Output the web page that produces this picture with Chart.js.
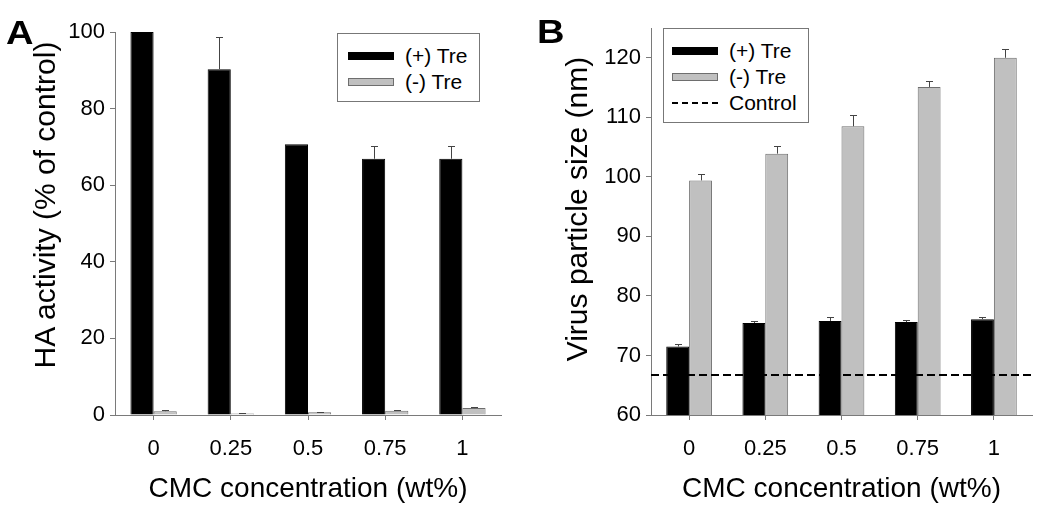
<!DOCTYPE html>
<html>
<head>
<meta charset="utf-8">
<script src="https://cdn.jsdelivr.net/npm/chart.js@4.4.1/dist/chart.umd.min.js"></script>
<style>
  body { margin: 0; background: #fff; font-family: "Liberation Sans", Arial, sans-serif; }
  #wrap { position: relative; width: 1050px; height: 514px; overflow: hidden; }
  .panel { position: absolute; top: 0; width: 525px; height: 514px; }
  .letter { position: absolute; font-weight: bold; font-size: 34px; line-height: 1; transform-origin: left top; transform: scaleX(1.12); }
  .ytitle { position: absolute; font-size: 30px; white-space: nowrap; transform: translate(-50%, -50%) rotate(-90deg); }
  .legend { position: absolute; border: 1px solid #777; background: #fff; font-size: 21px; }
  .legend .row { display: flex; align-items: center; height: 26px; }
  .legend .sw { width: 46px; height: 8px; margin-right: 11px; box-sizing: border-box; }
</style>
</head>
<body>
<div id="wrap">
  <div class="panel" style="left:0"><canvas id="chartA" width="525" height="514"></canvas></div>
  <div class="panel" style="left:525px"><canvas id="chartB" width="525" height="514"></canvas></div>
  <div class="letter" style="left:6px;top:15px">A</div>
  <div class="letter" style="left:537px;top:14px">B</div>
  <div class="ytitle" style="left:45px;top:205px">HA activity (% of control)</div>
  <div class="ytitle" style="left:577px;top:209px">Virus particle size (nm)</div>
  <div class="legend" id="legA" style="left:337px;top:33px;width:143px;height:69px;padding:9px 0 0 10px;box-sizing:border-box"></div>
  <div class="legend" id="legB" style="left:663px;top:28px;width:146px;height:95px;padding:9px 0 0 8px;box-sizing:border-box"></div>
</div>
<script>
// ---- data ----
const concLabels = ['0', '0.25', '0.5', '0.75', '1'];
const seriesNames = ['(+) Tre', '(-) Tre'];
const controlName = 'Control';

// panel A: HA activity (% of control)
const haPlus = [100, 90.3, 70.7, 66.9, 66.9];
const haPlusErr = [0, 8.4, 0, 3.3, 3.3];
const haMinus = [1.0, 0.4, 0.7, 1.1, 1.8];
const haMinusErr = [0.2, 0.1, 0.2, 0.3, 0.3];
const haTicks = [0, 20, 40, 60, 80, 100];

// panel B: virus particle size (nm)
const sizePlus = [71.5, 75.45, 75.8, 75.6, 76.1];
const sizePlusErr = [0.4, 0.3, 0.6, 0.4, 0.3];
const sizeMinus = [99.4, 103.9, 108.5, 115.1, 120.0];
const sizeMinusErr = [1.0, 1.2, 1.9, 1.0, 1.5];
const controlSize = 66.7;
const sizeTicks = [60, 70, 80, 90, 100, 110, 120];

const BLACK = '#000000';
const GREY = '#c0c0c0';
const GREY_EDGE = '#6e6e6e';
const AXIS = '#7a7a7a';
const FONT = '"Liberation Sans", Arial, sans-serif';

Chart.defaults.font.family = FONT;
Chart.defaults.color = '#000';

// upward-only error bars drawn through the chart's scales
const errorBars = {
  id: 'errorBars',
  afterDatasetsDraw(chart) {
    const ctx = chart.ctx;
    const y = chart.scales.y;
    chart.data.datasets.forEach((ds, di) => {
      if (!ds.errors) return;
      const meta = chart.getDatasetMeta(di);
      ctx.save();
      ctx.strokeStyle = '#444';
      ctx.lineWidth = 1;
      meta.data.forEach((bar, i) => {
        const e = ds.errors[i];
        if (!e) return;
        const y0 = y.getPixelForValue(ds.data[i]);
        const y1 = Math.round(y.getPixelForValue(ds.data[i] + e)) + 0.5;
        const x = Math.round(bar.x) + 0.5;
        ctx.beginPath();
        ctx.moveTo(x, y0);
        ctx.lineTo(x, y1);
        ctx.moveTo(x - 3.5, y1);
        ctx.lineTo(x + 3.5, y1);
        ctx.stroke();
      });
      ctx.restore();
    });
  }
};

// horizontal dashed reference line at a y value
const refLine = {
  id: 'refLine',
  afterDatasetsDraw(chart, args, opts) {
    if (opts.value == null) return;
    const { ctx, chartArea } = chart;
    const yy = chart.scales.y.getPixelForValue(opts.value);
    ctx.save();
    ctx.strokeStyle = '#000';
    ctx.lineWidth = 2;
    ctx.setLineDash([8, 4]);
    ctx.beginPath();
    ctx.moveTo(chartArea.left, yy);
    ctx.lineTo(chartArea.right, yy);
    ctx.stroke();
    ctx.restore();
  }
};

function barSet(label, data, errors, fill, edge) {
  return {
    label: label, data: data, errors: errors,
    backgroundColor: fill, borderColor: edge, borderWidth: 1,
    barPercentage: 1.0, categoryPercentage: 0.6
  };
}

function xScale() {
  return {
    type: 'category',
    offset: true,
    grid: { display: true, drawOnChartArea: false, drawTicks: true, tickLength: 5, color: AXIS, offset: false },
    border: { display: true, color: AXIS, width: 1 },
    ticks: { font: { size: 22 }, padding: 16, color: '#000' },
    title: { display: true, text: 'CMC concentration (wt%)', font: { size: 28 }, padding: { top: 0, bottom: 8 } },
    afterFit: s => { s.height = 99; }
  };
}

function yScale(min, max, tickVals, width) {
  return {
    type: 'linear', min: min, max: max,
    afterBuildTicks: s => { s.ticks = tickVals.map(v => ({ value: v })); },
    grid: { display: true, drawOnChartArea: false, drawTicks: true, tickLength: 5, color: AXIS },
    border: { display: true, color: AXIS, width: 1 },
    ticks: { font: { size: 22 }, padding: 5, color: '#000' },
    afterFit: s => { s.width = width; }
  };
}

const chartA = new Chart(document.getElementById('chartA'), {
  type: 'bar',
  data: {
    labels: concLabels,
    datasets: [
      barSet(seriesNames[0], haPlus, haPlusErr, BLACK, BLACK),
      barSet(seriesNames[1], haMinus, haMinusErr, GREY, GREY_EDGE)
    ]
  },
  options: {
    responsive: false, animation: false,
    layout: { padding: { top: 32, right: 24, left: 0, bottom: 0 } },
    plugins: { legend: { display: false }, tooltip: { enabled: false }, refLine: { value: null } },
    scales: { x: xScale(), y: yScale(0, 100, haTicks, 115) }
  },
  plugins: [errorBars, refLine]
});

const chartB = new Chart(document.getElementById('chartB'), {
  type: 'bar',
  data: {
    labels: concLabels,
    datasets: [
      barSet(seriesNames[0], sizePlus, sizePlusErr, BLACK, BLACK),
      barSet(seriesNames[1], sizeMinus, sizeMinusErr, GREY, GREY_EDGE)
    ]
  },
  options: {
    responsive: false, animation: false,
    layout: { padding: { top: 28, right: 18, left: 0, bottom: 0 } },
    plugins: { legend: { display: false }, tooltip: { enabled: false }, refLine: { value: controlSize } },
    scales: { x: xScale(), y: yScale(60, 125, sizeTicks, 126) }
  },
  plugins: [errorBars, refLine]
});

// legends boxed inside the plot, built from the datasets
function buildLegend(el, chart, extraLine) {
  const items = chart.data.datasets.map(ds => ({ label: ds.label, fill: ds.backgroundColor, edge: ds.borderColor }));
  if (extraLine) items.push({ label: extraLine, dashed: true });
  items.forEach(it => {
    const row = document.createElement('div');
    row.className = 'row';
    const sw = document.createElement('div');
    sw.className = 'sw';
    if (it.dashed) {
      sw.style.height = '0';
      sw.style.borderTop = '2px dashed #000';
    } else {
      sw.style.background = it.fill;
      sw.style.border = '1px solid ' + it.edge;
    }
    const tx = document.createElement('span');
    tx.textContent = it.label;
    row.appendChild(sw);
    row.appendChild(tx);
    el.appendChild(row);
  });
}
buildLegend(document.getElementById('legA'), chartA);
buildLegend(document.getElementById('legB'), chartB, controlName);
</script>
</body>
</html>
